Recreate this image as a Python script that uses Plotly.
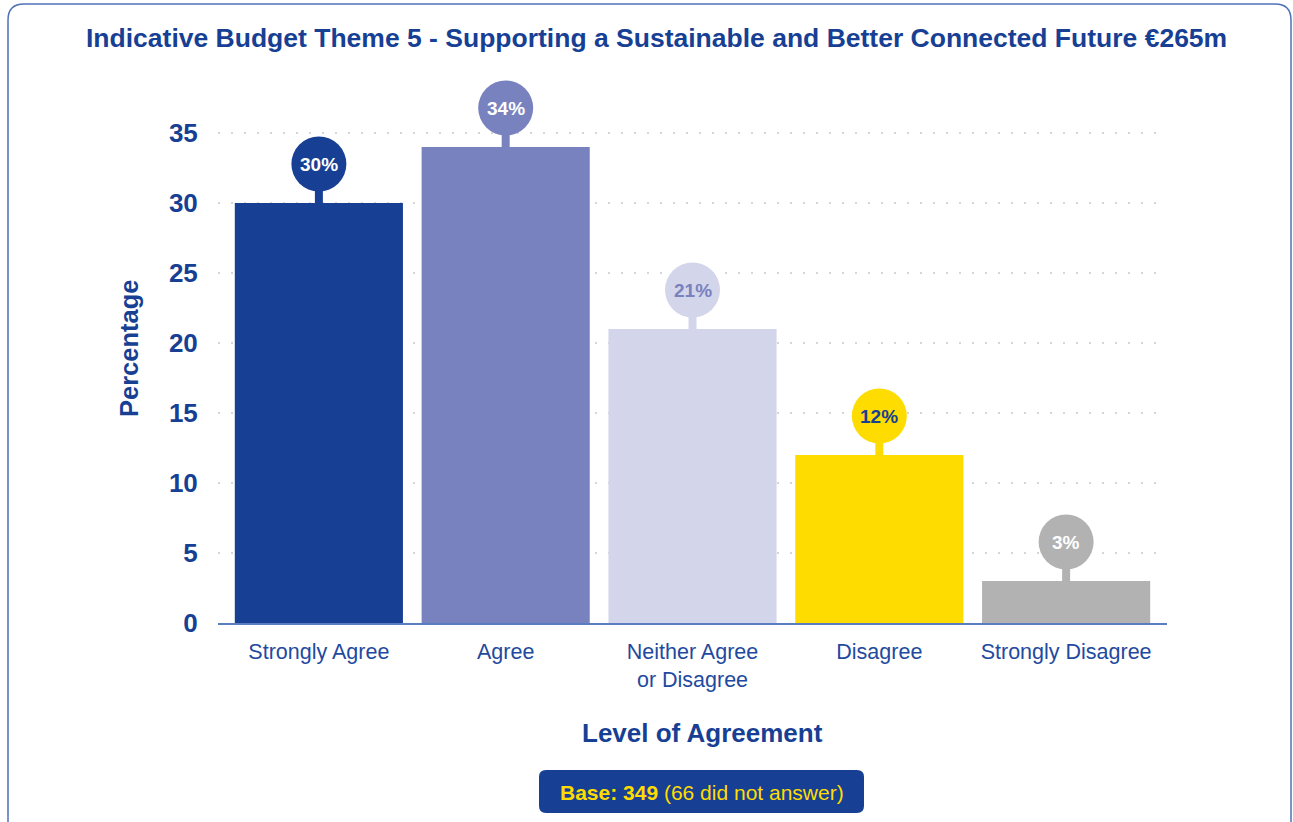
import plotly.graph_objects as go

categories = ["Strongly Agree", "Agree", "Neither Agree<br>or Disagree", "Disagree", "Strongly Disagree"]
values = [30, 34, 21, 12, 3]
labels = ["30%", "34%", "21%", "12%", "3%"]
bar_colors = ["#173f94", "#7882bf", "#d3d5ea", "#ffdc00", "#b2b2b2"]
label_colors = ["#ffffff", "#ffffff", "#7882bf", "#173f94", "#ffffff"]
y_ticks = [0, 5, 10, 15, 20, 25, 30, 35]

W_FIG, H_FIG = 1293, 822
L, R, T, B = 218, 1167, 70, 623
PW, PH = R - L, B - T
Y_MAX = (B - T) / 14.0

def px2x(px):
    return (px - L) / PW

def py2y(py):
    return (B - py) / PH

FONT = "Liberation Sans, Arial, sans-serif"
BLUE = "#173f94"

x_idx = list(range(len(categories)))

fig = go.Figure()
fig.add_trace(go.Bar(
    x=x_idx, y=values, marker=dict(color=bar_colors, line=dict(width=0)),
    width=0.9, hoverinfo="skip", showlegend=False,
))

shapes = []
annotations = []
for i, (v, lab, col, tcol) in enumerate(zip(values, labels, bar_colors, label_colors)):
    # stem
    shapes.append(dict(type="rect", xref="x", yref="y", xsizemode="pixel", ysizemode="pixel",
                       xanchor=i, yanchor=v, x0=-4, x1=4, y0=0, y1=16,
                       fillcolor=col, line=dict(width=0), layer="above"))
    # bubble
    shapes.append(dict(type="circle", xref="x", yref="y", xsizemode="pixel", ysizemode="pixel",
                       xanchor=i, yanchor=v, x0=-27.5, x1=27.5, y0=11.5, y1=66.5,
                       fillcolor=col, line=dict(width=0), layer="above"))
    annotations.append(dict(x=i, y=v, xref="x", yref="y", yshift=39, text=f"<b>{lab}</b>",
                            showarrow=False, font=dict(family=FONT, size=19, color=tcol),
                            xanchor="center", yanchor="middle"))

# outer rounded border
x0, x1, y0, yb, r = 8, 1291, 4, 830, 16
path = (f"M {px2x(x0)},{py2y(yb)} L {px2x(x0)},{py2y(y0 + r)} "
        f"Q {px2x(x0)},{py2y(y0)} {px2x(x0 + r)},{py2y(y0)} "
        f"L {px2x(x1 - r)},{py2y(y0)} Q {px2x(x1)},{py2y(y0)} {px2x(x1)},{py2y(y0 + r)} "
        f"L {px2x(x1)},{py2y(yb)}")
shapes.append(dict(type="path", xref="paper", yref="paper", path=path,
                   line=dict(color="#4f72b8", width=1.5), layer="above"))

# base box
bx0, bx1, by0, by1, br = 539, 864, 770, 813, 7
bpath = (f"M {px2x(bx0 + br)},{py2y(by0)} L {px2x(bx1 - br)},{py2y(by0)} "
         f"Q {px2x(bx1)},{py2y(by0)} {px2x(bx1)},{py2y(by0 + br)} "
         f"L {px2x(bx1)},{py2y(by1 - br)} Q {px2x(bx1)},{py2y(by1)} {px2x(bx1 - br)},{py2y(by1)} "
         f"L {px2x(bx0 + br)},{py2y(by1)} Q {px2x(bx0)},{py2y(by1)} {px2x(bx0)},{py2y(by1 - br)} "
         f"L {px2x(bx0)},{py2y(by0 + br)} Q {px2x(bx0)},{py2y(by0)} {px2x(bx0 + br)},{py2y(by0)} Z")
shapes.append(dict(type="path", xref="paper", yref="paper", path=bpath,
                   fillcolor=BLUE, line=dict(width=0), layer="above"))
annotations.append(dict(x=px2x(701.5), y=py2y(792), xref="paper", yref="paper",
                        text="<b>Base: 349</b> (66 did not answer)", showarrow=False,
                        font=dict(family=FONT, size=21, color="#ffdc00"),
                        xanchor="center", yanchor="middle"))

# title
annotations.append(dict(x=px2x(656), y=py2y(38), xref="paper", yref="paper",
                        text="<b>Indicative Budget Theme 5 - Supporting a Sustainable and Better Connected Future €265m</b>",
                        showarrow=False, font=dict(family=FONT, size=26.5, color=BLUE),
                        xanchor="center", yanchor="middle"))
# y title
annotations.append(dict(x=px2x(129), y=py2y(348), xref="paper", yref="paper",
                        text="<b>Percentage</b>", textangle=-90, showarrow=False,
                        font=dict(family=FONT, size=25.5, color=BLUE),
                        xanchor="center", yanchor="middle"))
# x title
annotations.append(dict(x=px2x(702), y=py2y(733), xref="paper", yref="paper",
                        text="<b>Level of Agreement</b>", showarrow=False,
                        font=dict(family=FONT, size=26, color=BLUE),
                        xanchor="center", yanchor="middle"))

fig.update_layout(
    width=W_FIG, height=H_FIG,
    margin=dict(l=L, r=W_FIG - R, t=T, b=H_FIG - B, pad=0),
    paper_bgcolor="white", plot_bgcolor="white",
    shapes=shapes, annotations=annotations,
    xaxis=dict(range=[-0.54, 4.54], tickmode="array", tickvals=x_idx, ticktext=categories,
               showgrid=False, zeroline=False, showline=True, linecolor="#5b7cc0", linewidth=2,
               ticks="outside", ticklen=8, tickcolor="rgba(0,0,0,0)",
               tickfont=dict(family=FONT, size=21.5, color="#1f4aa0"), fixedrange=True),
    yaxis=dict(range=[0, Y_MAX], tickmode="array", tickvals=y_ticks, ticktext=[str(t) for t in y_ticks],
               showgrid=True, gridcolor="#d6d6d6", gridwidth=2, griddash="2px,11px",
               zeroline=False, showline=False,
               ticks="outside", ticklen=14, tickcolor="rgba(0,0,0,0)",
               tickfont=dict(family=FONT, size=26, color=BLUE, weight="bold"), fixedrange=True),
    bargap=0.1,
)

fig.write_html("out.html", config={"displayModeBar": False},
               post_script="document.body.style.margin='0px';")
